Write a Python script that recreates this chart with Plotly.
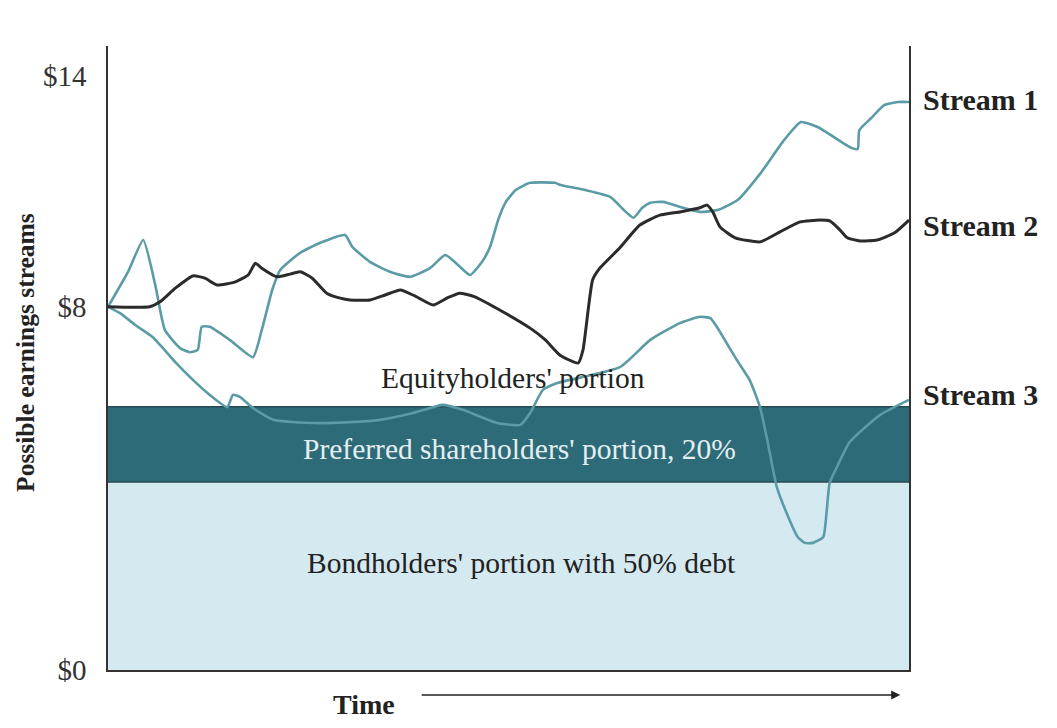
import plotly.graph_objects as go

# ---- data (time 0-100, values in $) ----
s1_t = [0, 2.5, 4.4, 5.9, 7.1, 9.0, 10.2, 11.2, 11.7, 12.7, 15.2, 18.1, 19.2, 20.5, 21.5, 24.0, 26.5, 29.6,
        30.5, 32.7, 35.2, 37.7, 40.2, 42.1, 43.7, 45.2, 46.7, 47.7, 48.7, 49.6, 50.9, 52.7, 55.8, 56.5, 59.6,
        62.7, 64.4, 65.6, 66.7, 67.7, 69.3, 71.8, 73.9, 76.1, 78.6, 81.5, 84.4, 86.5, 88.6, 92.8, 93.6, 93.8,
        95.3, 96.9, 98.6, 100]
s1_v = [8.0, 8.77, 9.47, 8.48, 7.49, 7.09, 7.00, 7.05, 7.56, 7.56, 7.27, 6.89, 7.49, 8.37, 8.81, 9.19, 9.41, 9.58,
        9.32, 8.99, 8.77, 8.66, 8.85, 9.14, 8.92, 8.70, 8.99, 9.32, 9.91, 10.29, 10.57, 10.73, 10.73, 10.68, 10.57,
        10.42, 10.13, 9.96, 10.18, 10.29, 10.31, 10.18, 10.09, 10.13, 10.35, 10.95, 11.67, 12.07, 11.96, 11.50, 11.48, 11.89,
        12.16, 12.44, 12.51, 12.51]

s2_t = [0, 5.2, 6.5, 8.4, 10.6, 12.1, 13.6, 15.9, 17.5, 18.4, 19.2, 21.1, 22.7, 24.0, 25.5, 27.3, 29.0, 30.2,
        32.7, 34.6, 36.5, 38.3, 40.6, 42.3, 43.9, 45.8, 48.9, 52.7, 54.6, 56.4, 58.7, 59.3, 60.5, 61.4, 63.9,
        66.4, 68.9, 71.4, 73.9, 74.8, 75.5, 76.4, 78.3, 81.4, 83.9, 86.4, 88.9, 90.1, 91.4, 92.3, 93.9, 96.0,
        98.2, 100]
s2_v = [8.0, 8.0, 8.11, 8.41, 8.68, 8.63, 8.48, 8.55, 8.70, 8.96, 8.85, 8.66, 8.72, 8.77, 8.63, 8.30, 8.19, 8.15,
        8.15, 8.26, 8.37, 8.24, 8.04, 8.19, 8.30, 8.22, 7.93, 7.53, 7.27, 6.94, 6.76, 7.05, 8.59, 8.85, 9.30,
        9.80, 10.02, 10.09, 10.18, 10.24, 10.09, 9.76, 9.52, 9.43, 9.65, 9.87, 9.91, 9.89, 9.69, 9.52, 9.45, 9.47,
        9.63, 9.91]

s3_t = [0, 1.5, 3.4, 5.6, 6.5, 8.4, 10.6, 12.7, 14.9, 15.6, 16.5, 18.1, 20.6, 25.6, 30.2, 34.0, 38.1, 41.8,
        44.3, 48.6, 51.5, 52.7, 54.3, 56.1, 63.9, 67.7, 71.4, 73.9, 75.2, 76.0, 78.5, 80.1, 81.4, 82.3, 83.5,
        85.1, 86.1, 87.0, 88.0, 89.3, 89.7, 90.1, 91.0, 92.6, 96.4, 100]
s3_v = [8.0, 7.86, 7.60, 7.33, 7.16, 6.78, 6.39, 6.06, 5.79, 6.06, 6.01, 5.77, 5.51, 5.44, 5.46, 5.51, 5.66, 5.84,
        5.73, 5.44, 5.40, 5.66, 6.17, 6.32, 6.67, 7.27, 7.64, 7.78, 7.75, 7.56, 6.83, 6.39, 5.79, 5.07, 4.03,
        3.30, 2.93, 2.80, 2.80, 2.93, 3.46, 4.12, 4.47, 5.02, 5.62, 5.95]

band_t = [0, 100]
bond_level = [4.14, 4.14]       # bondholders' portion (top)
pref_level = [5.80, 5.80]       # preferred shareholders' portion (top)

tick_vals = [0, 8, 13.08]
tick_text = ["$0", "$8", "$14"]

stream_names = ["Stream 1", "Stream 2", "Stream 3"]
stream_label_v = [12.56, 9.80, 6.06]

TEAL = "#5a9ba6"
DARK = "#2d6b78"
LIGHT = "#d5e9f1"
SERIF = "Liberation Serif, Times New Roman, serif"

fig = go.Figure()
fig.add_trace(go.Scatter(x=band_t, y=bond_level, mode="lines", line=dict(width=0, color=LIGHT),
                         fill="tozeroy", fillcolor=LIGHT, hoverinfo="skip", showlegend=False))
fig.add_trace(go.Scatter(x=band_t, y=bond_level, mode="lines", line=dict(width=1.5, color="#274a52"),
                         hoverinfo="skip", showlegend=False))
fig.add_trace(go.Scatter(x=band_t, y=pref_level, mode="lines", line=dict(width=1.5, color="#274a52"),
                         fill="tonexty", fillcolor=DARK, hoverinfo="skip", showlegend=False))

for t, v, c, w in [(s1_t, s1_v, TEAL, 2.6), (s3_t, s3_v, TEAL, 2.6), (s2_t, s2_v, "#2b2b2b", 3.0)]:
    fig.add_trace(go.Scatter(x=t, y=v, mode="lines", line=dict(color=c, width=w, shape="spline", smoothing=0.5),
                             showlegend=False))

ymax = 13.744
fig.update_layout(
    width=1049, height=720,
    margin=dict(l=100, r=148, t=38, b=58),
    paper_bgcolor="white", plot_bgcolor="white",
    font=dict(family=SERIF, color="#222"),
    xaxis=dict(range=[0, 100], showgrid=False, zeroline=False, showticklabels=False, ticks="",
               showline=True, linecolor="#333", linewidth=1.5),
    yaxis=dict(range=[0, ymax], showgrid=False, zeroline=False, tickvals=tick_vals, ticktext=tick_text,
               tickfont=dict(family=SERIF, size=29, color="#333"), ticks="", ticklabelstandoff=14,
               showline=True, mirror=True, linecolor="#333", linewidth=1.5),
)

anns = [
    dict(x=50.6, y=6.43, text="Equityholders' portion", font=dict(size=29.5, color="#222")),
    dict(x=51.4, y=4.87, text="Preferred shareholders' portion, 20%", font=dict(size=29.5, color="#e4eef1")),
    dict(x=51.6, y=2.36, text="Bondholders' portion with 50% debt", font=dict(size=29.5, color="#222")),
]
for a in anns:
    fig.add_annotation(xref="x", yref="y", showarrow=False, xanchor="center", yanchor="middle", **a)

for name, v in zip(stream_names, stream_label_v):
    fig.add_annotation(xref="paper", yref="y", x=1.015, y=v, xanchor="left", yanchor="middle", showarrow=False,
                       text="<b>" + name + "</b>", font=dict(size=30, color="#222"))

fig.add_annotation(xref="paper", yref="y", x=-0.104, y=7.0, textangle=-90, showarrow=False,
                   xanchor="center", yanchor="middle",
                   text="<b>Possible earnings streams</b>", font=dict(size=25.5, color="#222"))
fig.add_annotation(xref="x", yref="paper", x=32, y=-0.056, showarrow=False, xanchor="center", yanchor="middle",
                   text="<b>Time</b>", font=dict(size=28, color="#222"))
fig.add_annotation(xref="x", yref="paper", x=98.9, y=-0.04, ax=-480, ay=0, axref="pixel", ayref="pixel",
                   text="", showarrow=True, arrowhead=2, arrowsize=1.2, arrowwidth=1.5, arrowcolor="#222")

fig.write_html("out.html")
